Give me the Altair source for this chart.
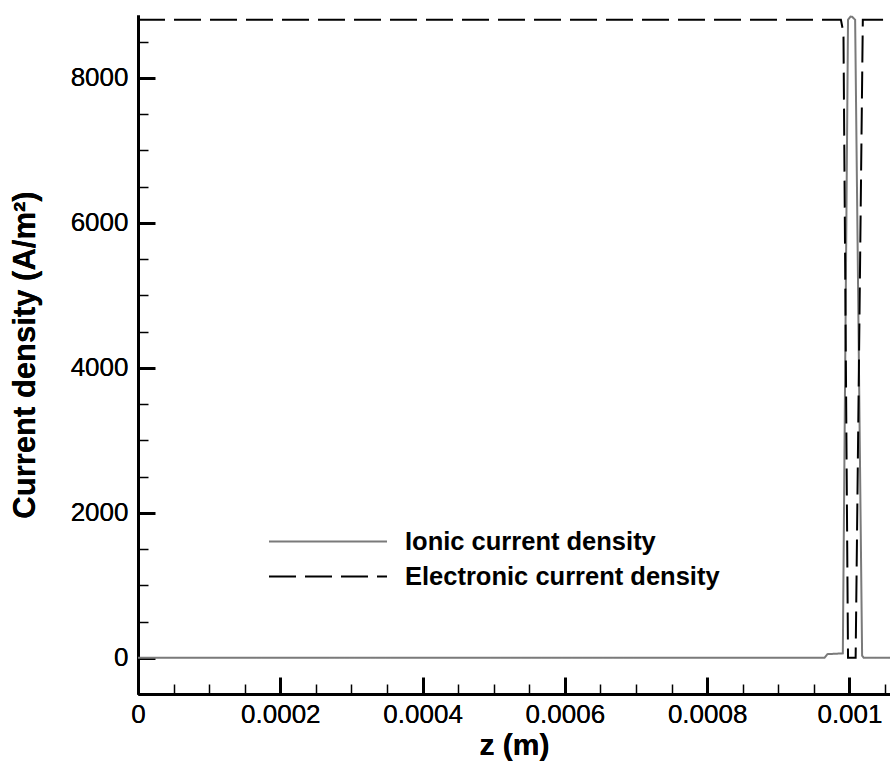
import altair as alt
import pandas as pd

# ---- data ----
series_names = ["Ionic current density", "Electronic current density"]

z_ionic = [0.0, 0.000965, 0.000969, 0.0009907, 0.000998, 0.0010015, 0.001004, 0.001008, 0.0010178, 0.00102, 0.001057]
j_ionic = [0, 0, 50, 60, 8800, 8845, 8840, 8800, 30, 0, 0]

z_elec = [0.0, 0.000988, 0.0009916, 0.000998, 0.0010087, 0.0010188, 0.001057]
j_elec = [8800, 8800, 8620, 0, 0, 8800, 8800]

x_major = [0, 0.0002, 0.0004, 0.0006, 0.0008, 0.001]
x_minor = [0.00005, 0.0001, 0.00015, 0.00025, 0.0003, 0.00035, 0.00045, 0.0005, 0.00055,
           0.00065, 0.0007, 0.00075, 0.00085, 0.0009, 0.00095, 0.00105]
y_major = [0, 2000, 4000, 6000, 8000]
y_minor = [-500, 500, 1000, 1500, 2500, 3000, 3500, 4500, 5000, 5500, 6500, 7000, 7500, 8500]

x_domain = [0, 0.001057]
y_domain = [-500, 8866]

df = pd.concat([
    pd.DataFrame({"z": z_ionic, "j": j_ionic, "series": series_names[0], "k": range(len(z_ionic))}),
    pd.DataFrame({"z": z_elec, "j": j_elec, "series": series_names[1], "k": range(len(z_elec))}),
], ignore_index=True)

FONT = "Liberation Sans"
xscale = alt.Scale(domain=x_domain, nice=False, zero=False)
yscale = alt.Scale(domain=y_domain, nice=False, zero=False)

legend = alt.Legend(
    title=None, orient="none", legendX=130, legendY=513,
    symbolType="stroke", symbolSize=13924, symbolStrokeWidth=2,
    labelFont=FONT, labelFontSize=25.5, labelFontWeight="bold", labelColor="black",
    labelOffset=17, rowPadding=8, clipHeight=27, labelLimit=600,
)
color = alt.Color("series:N", scale=alt.Scale(domain=series_names, range=["#7a7a7a", "#000000"]), legend=legend)
dash = alt.StrokeDash("series:N", scale=alt.Scale(domain=series_names, range=[[1, 0], [27, 9]]), legend=legend)

x_main = alt.X("z:Q", scale=xscale, axis=alt.Axis(
    values=x_major, format="~g", title="z (m)", orient="bottom", grid=False,
    ticks=False, tickSize=0, domainColor="black", domainWidth=3,
    labelFont=FONT, labelFontSize=26, labelColor="black", labelPadding=7, labelFlush=False,
    titleFont=FONT, titleFontSize=30, titleFontWeight="bold", titleColor="black", titlePadding=3))
y_main = alt.Y("j:Q", scale=yscale, axis=alt.Axis(
    values=y_major, format="d", title="Current density (A/m²)", orient="left", grid=False,
    ticks=False, tickSize=0, domainColor="black", domainWidth=3,
    labelFont=FONT, labelFontSize=26, labelColor="black", labelPadding=10,
    titleFont=FONT, titleFontSize=31, titleFontWeight="bold", titleColor="black", titlePadding=29))

base = alt.Chart(df)
ionic = base.transform_filter(alt.datum.series == series_names[0]).mark_line(strokeWidth=2).encode(
    x=x_main, y=y_main, color=color, strokeDash=dash, order="k:Q")
elec = base.transform_filter(alt.datum.series == series_names[1]).mark_line(strokeWidth=2).encode(
    x=x_main, y=y_main, color=color, strokeDash=dash, order="k:Q")


def tick_layer(xv, yv, size, width):
    return base.mark_point(opacity=0).encode(
        x=alt.X("z:Q", scale=xscale, axis=alt.Axis(
            values=xv, orient="bottom", offset=-size, tickSize=size, tickWidth=width,
            tickColor="black", labels=False, domain=False, grid=False, title=None)),
        y=alt.Y("j:Q", scale=yscale, axis=alt.Axis(
            values=yv, orient="left", offset=-size, tickSize=size, tickWidth=width,
            tickColor="black", labels=False, domain=False, grid=False, title=None)),
    )


major = tick_layer(x_major, y_major, 17, 3)
minor = tick_layer(x_minor, y_minor, 10, 1.5)

chart = alt.layer(ionic, elec, major, minor).resolve_axis(x="independent", y="independent").properties(
    width=752, height=679,
    autosize=alt.AutoSizeParams(type="none"),
    padding={"left": 138, "top": 15, "right": 0, "bottom": 71},
    background="white",
).configure_view(strokeWidth=0)

chart.save("out.html", embed_options={"renderer": "svg", "actions": False})
